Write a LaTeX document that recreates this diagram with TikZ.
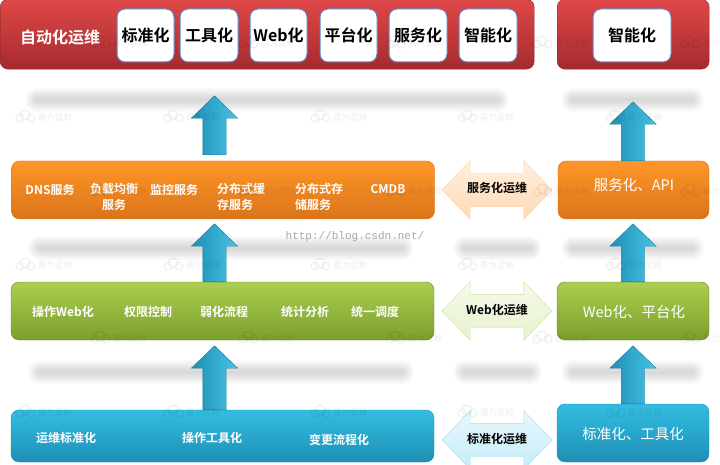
\documentclass[tikz,border=0pt]{standalone}
\usepackage{fontspec}
\usepackage{xcolor}
\setmainfont{Noto Sans CJK SC}
\newfontfamily\boldcjk{Noto Sans CJK SC Bold}
\newfontfamily\urlfont{Liberation Mono}
\usetikzlibrary{shapes.arrows}

\definecolor{redtop}{HTML}{E04848}
\definecolor{redlow}{HTML}{A52A2E}
\definecolor{orangetop}{HTML}{FF9628}
\definecolor{orangelow}{HTML}{D9741A}
\definecolor{greentop}{HTML}{AACF50}
\definecolor{greenlow}{HTML}{7C9E2C}
\definecolor{bluetop}{HTML}{33BDE2}
\definecolor{bluelow}{HTML}{1E8FB4}
\definecolor{cardedge}{HTML}{5C86C6}

\tikzset{
  redbar/.style={rounded corners=8pt, draw=redlow!80!black, top color=redtop, bottom color=redlow},
  orangebar/.style={rounded corners=8pt, draw=orangelow, top color=orangetop, bottom color=orangelow},
  greenbar/.style={rounded corners=8pt, draw=greenlow!85!black, top color=greentop, bottom color=greenlow},
  bluebar/.style={rounded corners=8pt, draw=bluelow, top color=bluetop, bottom color=bluelow},
  whitecard/.style={draw=cardedge, line width=1pt, fill=white, rounded corners=8pt, minimum height=53pt, font=\boldcjk\fontsize{16}{18}\selectfont, inner sep=0pt},
  itemtext/.style={text=white, font=\boldcjk\fontsize{12}{16}\selectfont, align=center, inner sep=0pt},
  sidetext/.style={text=white, font=\fontsize{14.5}{16}\selectfont, inner sep=0pt},
  uparrow/.style={shape=single arrow, rotate=90, anchor=tail, minimum width=46pt, single arrow head extend=11.5pt, single arrow tip angle=92, inner xsep=0pt, inner ysep=11.5pt, draw=bluelow!85!black, left color=bluelow, right color=bluetop!90!white},
  twoway/.style={shape=double arrow, minimum height=110pt, minimum width=58pt, double arrow head extend=12.5pt, double arrow tip angle=92, inner xsep=0pt, inner ysep=9.5pt, text height=10pt, text depth=4pt, font=\boldcjk\fontsize{12}{14}\selectfont},
  markname/.style={text=black, opacity=0.07, font=\fontsize{8.5}{10}\selectfont, inner sep=0pt, anchor=west},
  markcloud/.style={draw=black, opacity=0.07, line width=1pt}
}

% soft grey strip under a layer
\newcommand{\softstrip}[3]{
  \foreach \wid in {24,21,18,15,12,9,6,3}
    \draw[line width=\wid pt, line cap=round, black, opacity=0.018] (#1+10,#3) -- (#2-10,#3);
}
% faint cloud of the watermark
\newcommand{\cloudmark}[2]{
  \draw[markcloud] (#1+5,#2+1) circle (4) (#1+10,#2-2) circle (5) (#1+16,#2+1) circle (4);
}

\begin{document}
\begin{tikzpicture}[x=1pt, y=-1pt]
\useasboundingbox (0,0) rectangle (720,465);
\clip (0,0) rectangle (720,465);

% strips
\softstrip{27}{507}{100}
\softstrip{563}{702}{100}
\softstrip{30}{412}{248}
\softstrip{455}{540}{248}
\softstrip{563}{702}{248}
\softstrip{30}{412}{372}
\softstrip{455}{540}{372}
\softstrip{563}{702}{372}

% top row
\node[redbar, minimum width=534pt, minimum height=70pt, anchor=north west, inner sep=0pt] (autobar) at (0,-1) {};
\node[redbar, minimum width=152pt, minimum height=70pt, anchor=north west, inner sep=0pt] (autoside) at (557,-1) {};
\node[text=white, font=\boldcjk\fontsize{16}{18}\selectfont, inner sep=0pt] (autolabel) at (60,37) {自动化运维};
\node[whitecard, minimum width=57pt] (card1) at (145.5,35.5) {标准化};
\node[whitecard, minimum width=58pt] (card2) at (209,35.5) {工具化};
\node[whitecard, minimum width=57pt] (card3) at (278.5,35.5) {Web化};
\node[whitecard, minimum width=57pt] (card4) at (348.5,35.5) {平台化};
\node[whitecard, minimum width=58pt] (card5) at (418,35.5) {服务化};
\node[whitecard, minimum width=58pt] (card6) at (488,35.5) {智能化};
\node[whitecard, minimum width=78pt] (card7) at (632,35.5) {智能化};

% orange row
\node[orangebar, minimum width=423pt, minimum height=58pt, inner sep=0pt] (svcbar) at (223,190) {};
\node[orangebar, minimum width=151pt, minimum height=58pt, inner sep=0pt] (svcside) at (633.5,190) {};
\node[itemtext] (svc1) at (50,190) {DNS服务};
\node[itemtext, anchor=north] (svc2) at (114,183) {负载均衡\\服务};
\node[itemtext] (svc3) at (174,190) {监控服务};
\node[itemtext, anchor=north, align=left] (svc4) at (241,183) {分布式缓\\存服务};
\node[itemtext, anchor=north, align=left] (svc5) at (319,183) {分布式存\\储服务};
\node[itemtext] (svc6) at (388,189) {CMDB};
\node[sidetext] (svclabel) at (634,185) {服务化、API};

% green row
\node[greenbar, minimum width=423pt, minimum height=58pt, inner sep=0pt] (webbar) at (222.5,311) {};
\node[greenbar, minimum width=152pt, minimum height=58pt, inner sep=0pt] (webside) at (633,311) {};
\node[itemtext] (web1) at (63,312) {操作Web化};
\node[itemtext] (web2) at (148,312) {权限控制};
\node[itemtext] (web3) at (224,312) {弱化流程};
\node[itemtext] (web4) at (305,312) {统计分析};
\node[itemtext] (web5) at (375,312) {统一调度};
\node[sidetext] (weblabel) at (634,312) {Web化、平台化};

% blue row
\node[bluebar, minimum width=423pt, minimum height=52pt, inner sep=0pt] (stdbar) at (222.5,436) {};
\node[bluebar, minimum width=152pt, minimum height=58pt, inner sep=0pt] (stdside) at (633,433) {};
\node[itemtext] (std1) at (66,438) {运维标准化};
\node[itemtext] (std2) at (212,438) {操作工具化};
\node[itemtext] (std3) at (339,440) {变更流程化};
\node[sidetext] (stdlabel) at (633,434) {标准化、工具化};

% arrows up
\node[uparrow, minimum height=59pt] (up1) at (214.5,155) {};
\node[uparrow, minimum height=58pt] (up2) at (214.5,282) {};
\node[uparrow, minimum height=64pt] (up3) at (214.5,410) {};
\node[uparrow, minimum height=59pt] (up4) at (633,161) {};
\node[uparrow, minimum height=58pt] (up5) at (633,282) {};
\node[uparrow, minimum height=58pt] (up6) at (633,404) {};

% arrows between the columns
\node[twoway, draw=orange!35, top color=orange!12, bottom color=orange!30] (svcway) at (497,190) {服务化运维};
\node[twoway, draw=greentop!60, top color=greentop!12, bottom color=greentop!28] (webway) at (497,311) {Web化运维};
\node[twoway, draw=bluetop!45, top color=bluetop!12, bottom color=bluetop!28] (stdway) at (497,440) {标准化运维};

\node[text=black!35, font=\urlfont\fontsize{11}{13}\selectfont, inner sep=0pt] (urlmark) at (355,237) {http://blog.csdn.net/};

% watermark
\foreach \px in {15,163,310,457,605}
  \foreach \py in {117,265,412} {
    \cloudmark{\px}{\py}
    \node[markname] (mark\px\py) at (\px+23,\py) {嘉为蓝鲸};
  }
\foreach \px in {90,238,385,532}
  \foreach \py in {43,191,338} {
    \cloudmark{\px}{\py}
    \node[markname] (mark\px\py) at (\px+23,\py) {嘉为蓝鲸};
  }
\foreach \py in {43,191,338} {
  \cloudmark{680}{\py}
  \node[markname] (markedge\py) at (703,\py) {嘉为};
}
\end{tikzpicture}
\end{document}
